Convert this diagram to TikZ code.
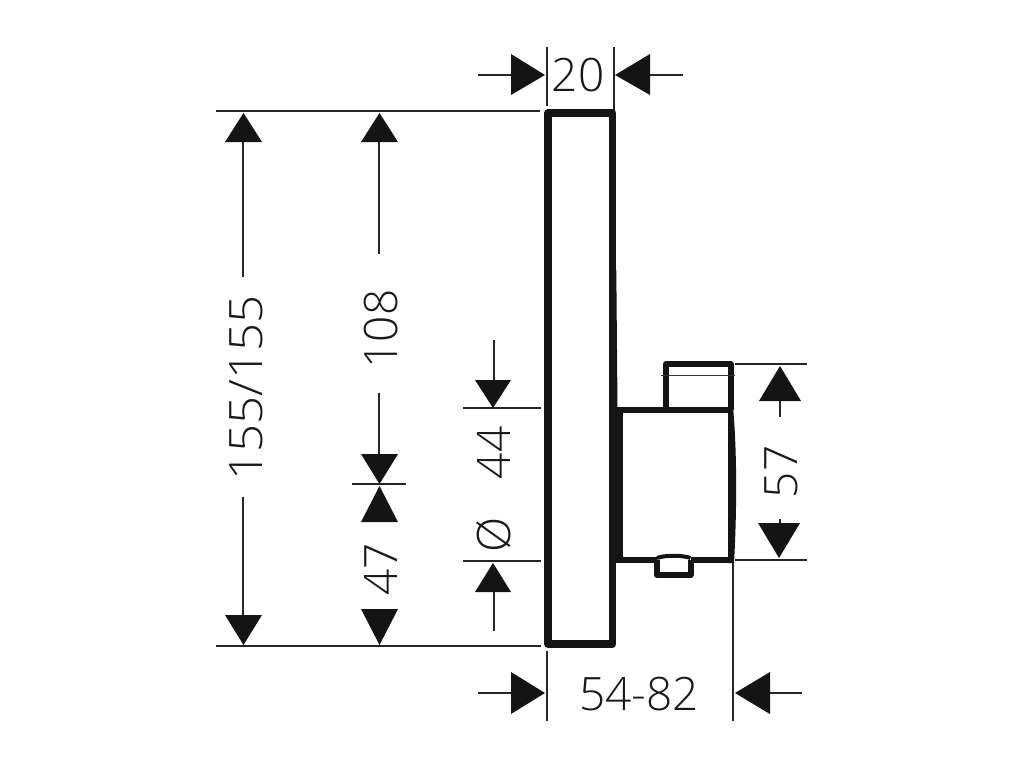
\documentclass[tikz,border=0pt]{standalone}
\usepackage{graphicx}
\usepackage{fontspec}
\setmainfont{Open Sans Light}
\begin{document}
\begin{tikzpicture}[x=1pt,y=-1pt,
  dim/.style={line width=1.3pt,black!85},
  thin part/.style={line width=1pt,black!80},
  part/.style={line width=6pt,black!92,line join=round},
  plate/.style={line width=7.5pt,black!92,line join=round},
  tip/.style={fill=black!92,draw=none},
  lbl/.style={font=\fontsize{46}{46}\selectfont,inner sep=0pt,text=black!90}]
\useasboundingbox[fill=white] (0,0) rectangle (1024,768);
% part outline
\draw[plate] (548,113) rectangle (612.5,644);
\fill[black!92] (613,270) -- (616.3,270) -- (617.5,408) -- (613,408) -- cycle;
\fill[black!92] (611,408) -- (623,408) -- (623,563) -- (611,563) -- cycle;
\draw[line width=6pt,black!92] (617,410) -- (731,410);
\draw[line width=6pt,black!92] (617,560) -- (657,560);
\draw[line width=6pt,black!92] (691,560) -- (732,560);
\draw[part] (666,410) -- (666,364) -- (730.5,364) -- (730.5,410);
\draw[thin part] (661,375) -- (735,375);
\fill[black!92] (728,407) -- (733,407) .. controls (737,450) and (737,510) .. (734,563) -- (728,563) -- cycle;
\draw[part] (657,560) -- (657,575) -- (690.5,575) -- (690.5,560);
\draw[part,line width=4pt] (657,558) .. controls (665,555) and (682,555) .. (690.5,558);
% named ends
\foreach \n/\x/\y in {a1/216/111,a2/540/111,b1/216/646,b2/541/646,
  c1/547/47,c2/547/106,d1/614/47,d2/614/110,
  e1/547/651,e2/547/721,f1/733/563,f2/733/721,
  g1/352/484,g2/406/484,h1/463/408,h2/541/408,i1/463/561,i2/541/561,
  j1/735/364,j2/807/364,k1/735/560,k2/807/560,
  l1/478/75,l2/511/75,m1/650/75,m2/683/75,
  n1/478/693,n2/511/693,o1/770/693,o2/802/693,
  p1/243/142,p2/243/277,q1/243/497,q2/243/615,
  r1/379/142,r2/379/254,s1/379/393,s2/379/454,
  t1/494/340,t2/494/380,u1/494/592,u2/494/631,
  v1/780/401,v2/780/417,w1/780/519,w2/780/523}
  {\coordinate (\n) at (\x,\y);}
\foreach \s/\e in {a1/a2,b1/b2,c1/c2,d1/d2,e1/e2,f1/f2,g1/g2,h1/h2,i1/i2,j1/j2,k1/k2,
  l1/l2,m1/m2,n1/n2,o1/o2,p1/p2,q1/q2,r1/r2,s1/s2,t1/t2,u1/u2,v1/v2,w1/w2}
  {\draw[dim] (\s) -- (\e);}
% arrowheads
\fill[tip] (511,54) -- (545,75) -- (511,95) -- cycle;
\fill[tip] (650,54) -- (615,75) -- (650,95) -- cycle;
\fill[tip] (511,672) -- (545,693) -- (511,714) -- cycle;
\fill[tip] (770,672) -- (735,693) -- (770,714) -- cycle;
\fill[tip] (225,142) -- (243.5,113) -- (262,142) -- cycle;
\fill[tip] (225,615) -- (243.5,645) -- (262,615) -- cycle;
\fill[tip] (361,142) -- (379.5,113) -- (398,142) -- cycle;
\fill[tip] (361,454) -- (379.5,484) -- (398,454) -- cycle;
\fill[tip] (361,522) -- (379.5,486) -- (398,522) -- cycle;
\fill[tip] (361,609) -- (379.5,645) -- (398,609) -- cycle;
\fill[tip] (475,380) -- (493,408) -- (511,380) -- cycle;
\fill[tip] (475,592) -- (493,563) -- (511,592) -- cycle;
\fill[tip] (759,401) -- (780,366) -- (801,401) -- cycle;
\fill[tip] (758,523) -- (779,558) -- (800,523) -- cycle;
% labels
\node[lbl] (t20) at (578,75) {20};
\node[lbl] (t5482) at (639,694) {54-82};
\node[lbl,rotate=90] (t155) at (246,388) {\scalebox{1.07}[1]{155/155}};
\node[lbl,rotate=90] (t108) at (381,329) {108};
\node[lbl,rotate=90] (t47) at (381,569) {47};
\node[lbl,rotate=90] (t44) at (494,453) {44};
\node[lbl,rotate=90] (tdia) at (494,535) {Ø};
\node[lbl,rotate=90] (t57) at (781,472) {57};
\end{tikzpicture}
\end{document}
